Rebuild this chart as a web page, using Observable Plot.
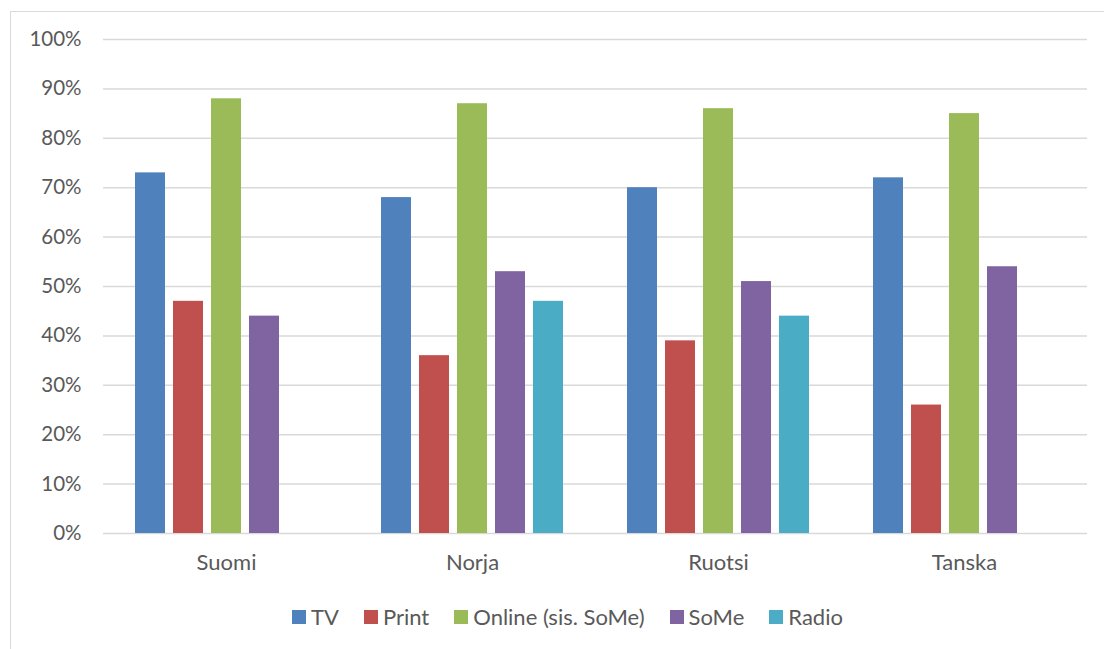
<!DOCTYPE html>
<html>
<head>
<meta charset="utf-8">
<script src="https://cdn.jsdelivr.net/npm/d3@7"></script>
<script src="https://cdn.jsdelivr.net/npm/@observablehq/plot@0.6"></script>
<style>
  html, body { margin: 0; padding: 0; background: #fff; }
  body { width: 1104px; height: 649px; position: relative; overflow: hidden; font-family: Lato, "Open Sans", sans-serif; }
  #frame { position: absolute; left: 10px; top: 11px; width: 1200px; height: 700px; border-left: 1.5px solid #d9d9d9; border-top: 1.5px solid #d9d9d9; box-sizing: border-box; }
  #chart { position: absolute; left: 0; top: 0; }
  #legend { position: absolute; left: 0; width: 1135px; top: 603px; display: flex; justify-content: center; gap: 25px; font-size: 22px; color: #595959; white-space: nowrap; }
  .item { display: flex; align-items: center; gap: 5px; }
  .sw { width: 14px; height: 14px; display: inline-block; }
</style>
</head>
<body>
<div id="frame"></div>
<div id="chart"></div>
<div id="legend"></div>
<script>
const countries = ["Suomi", "Norja", "Ruotsi", "Tanska"];
const seriesNames = ["TV", "Print", "Online (sis. SoMe)", "SoMe", "Radio"];
const colors = ["#4F81BD", "#C0504D", "#9BBB59", "#8064A2", "#4BACC6"];
const tvValues = [0.73, 0.68, 0.70, 0.72];
const printValues = [0.47, 0.36, 0.39, 0.26];
const onlineValues = [0.88, 0.87, 0.86, 0.85];
const someValues = [0.44, 0.53, 0.51, 0.54];
const radioValues = [null, 0.47, 0.44, null];
const yTicks = [0, 0.1, 0.2, 0.3, 0.4, 0.5, 0.6, 0.7, 0.8, 0.9, 1.0];

const seriesValues = [tvValues, printValues, onlineValues, someValues, radioValues];
const data = [];
countries.forEach((c, i) => {
  seriesNames.forEach((s, j) => {
    const v = seriesValues[j][i];
    if (v != null) data.push({country: c, series: s, value: v});
  });
});

const chart = Plot.plot({
  width: 1104,
  height: 590,
  marginTop: 39,
  marginBottom: 57,
  marginLeft: 103,
  marginRight: 17,
  style: {fontFamily: "Lato, 'Open Sans', sans-serif", fontSize: "20px", color: "#595959", background: "transparent", overflow: "visible"},
  fx: {domain: countries, padding: 0, label: null},
  x: {domain: seriesNames, paddingInner: 0.22, paddingOuter: 0.84, axis: null},
  y: {domain: [0, 1], label: null},
  color: {domain: seriesNames, range: colors},
  marks: [
    Plot.ruleY(yTicks, {stroke: "#d9d9d9", strokeWidth: 1.5, strokeOpacity: 1}),
    Plot.barY(data, {fx: "country", x: "series", y: "value", fill: "series"}),
    Plot.axisY({ticks: yTicks, tickFormat: d3.format(".0%"), tickSize: 0, tickPadding: 22, label: null, fill: "#595959", fontSize: 20.5}),
    Plot.axisFx({anchor: "bottom", tickSize: 0, tickPadding: 21, label: null, fill: "#595959", fontSize: 22})
  ]
});
document.getElementById("chart").appendChild(chart);

const legend = document.getElementById("legend");
seriesNames.forEach((s, i) => {
  const item = document.createElement("div");
  item.className = "item";
  const sw = document.createElement("span");
  sw.className = "sw";
  sw.style.background = colors[i];
  const t = document.createElement("span");
  t.textContent = s;
  item.appendChild(sw);
  item.appendChild(t);
  legend.appendChild(item);
});
</script>
</body>
</html>
